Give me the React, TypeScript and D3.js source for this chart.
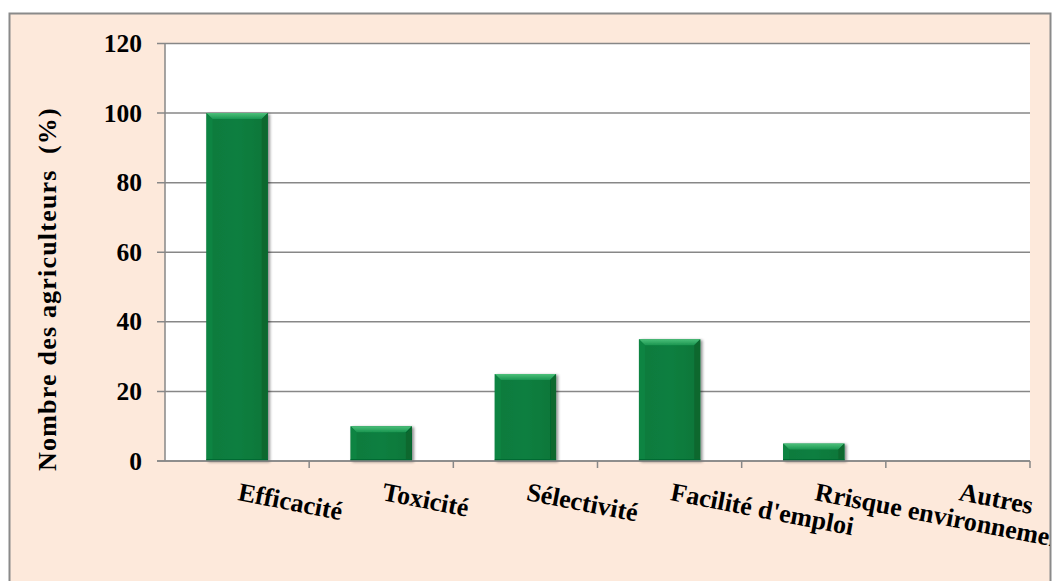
import React from "react";
import * as d3 from "d3";

const categories = ["Efficacité", "Toxicité", "Sélectivité", "Facilité d'emploi", "Rrisque environnement", "Autres"];
const values = [100, 10, 25, 35, 5, 0];
const yTicks = [0, 20, 40, 60, 80, 100, 120];
const yTitle = "Nombre des agriculteurs  (%)";

const W = 1055, H = 581;
const plot = { left: 165, right: 1030, top: 43.5, bottom: 461 };

export default function App() {
  const x = d3.scaleBand<string>().domain(categories).range([plot.left, plot.right]).paddingInner(0.575).paddingOuter(0.2875);
  const y = d3.scaleLinear().domain([0, 120]).range([plot.bottom, plot.top]);
  const step = x.step();
  const bw = x.bandwidth();
  const boundaries = d3.range(categories.length + 1).map(i => plot.left + i * step);
  const font = "'Liberation Serif', 'Times New Roman', serif";
  const grid = "#878787";
  return (
    <svg width={W} height={H} style={{ position: "absolute", left: 0, top: 0, fontFamily: font }}>
      <defs>
        <clipPath id="outer"><rect x={10} y={14} width={1040} height={H} /></clipPath>
        <linearGradient id="topBevel" x1="0" y1="0" x2="0" y2="1">
          <stop offset="0" stopColor="#4cc07a" />
          <stop offset="1" stopColor="#1a9550" />
        </linearGradient>
        <linearGradient id="barBody" x1="0" y1="0" x2="1" y2="0">
          <stop offset="0" stopColor="#0a7a3d" />
          <stop offset="0.5" stopColor="#0b7f40" />
          <stop offset="1" stopColor="#097638" />
        </linearGradient>
        <filter id="shadow" x="-20%" y="-20%" width="150%" height="150%">
          <feGaussianBlur in="SourceAlpha" stdDeviation="1.5" />
          <feOffset dx="2" dy="1" result="b" />
          <feComponentTransfer><feFuncA type="linear" slope="0.45" /></feComponentTransfer>
          <feMerge><feMergeNode /><feMergeNode in="SourceGraphic" /></feMerge>
        </filter>
      </defs>
      <rect x={9.5} y={13.5} width={1041} height={H} fill="#fde9db" stroke="#8a8a8a" strokeWidth={2} />
      <rect x={plot.left} y={plot.top} width={plot.right - plot.left} height={plot.bottom - plot.top} fill="#ffffff" />
      {yTicks.map(t => (
        <g key={t}>
          <line x1={157} x2={plot.right} y1={y(t)} y2={y(t)} stroke={grid} strokeWidth={1.5} />
          <text x={142} y={y(t) + 8.5} textAnchor="end" fontSize={25.5} fontWeight="bold" fontFamily={font}>{t}</text>
        </g>
      ))}
      <line x1={plot.left} x2={plot.left} y1={plot.top} y2={plot.bottom} stroke={grid} strokeWidth={1.5} />
      {boundaries.slice(1).map((b, i) => (
        <line key={i} x1={b} x2={b} y1={plot.bottom} y2={plot.bottom + 7} stroke={grid} strokeWidth={1.5} />
      ))}
      {categories.map((c, i) => {
        const v = values[i];
        if (v <= 0) return null;
        const x0 = x(c)!;
        const y0 = y(v);
        const h = plot.bottom - y0;
        const bev = Math.min(6, h / 2);
        return (
          <g key={c} filter="url(#shadow)">
            <rect x={x0} y={y0} width={bw} height={h} fill="url(#barBody)" />
            <polygon points={`${x0},${y0} ${x0 + bw},${y0} ${x0 + bw - bev},${y0 + bev} ${x0 + bev},${y0 + bev}`} fill="url(#topBevel)" />
            <polygon points={`${x0},${y0} ${x0 + bev},${y0 + bev} ${x0 + bev},${plot.bottom - 2} ${x0},${plot.bottom}`} fill="#0d8443" />
            <polygon points={`${x0 + bw},${y0} ${x0 + bw - bev},${y0 + bev} ${x0 + bw - bev},${plot.bottom - 2} ${x0 + bw},${plot.bottom}`} fill="#07672f" />
            <rect x={x0} y={plot.bottom - 2} width={bw} height={2} fill="#066a30" />
          </g>
        );
      })}
      <line x1={plot.left - 8} x2={plot.right} y1={plot.bottom} y2={plot.bottom} stroke={grid} strokeWidth={1.5} />
      <g clipPath="url(#outer)">
        {categories.map((c, i) => {
          const cx = x(c)! + bw / 2;
          return (
            <text key={c} transform={`translate(${cx},${500}) rotate(11)`} fontSize={26} fontWeight="bold" fontFamily={font}>{c}</text>
          );
        })}
      </g>
      <text transform={`translate(56,${289}) rotate(-90)`} textAnchor="middle" fontSize={26} fontWeight="bold" letterSpacing={1.2} fontFamily={font} style={{ whiteSpace: "pre" }}>{yTitle}</text>
    </svg>
  );
}
